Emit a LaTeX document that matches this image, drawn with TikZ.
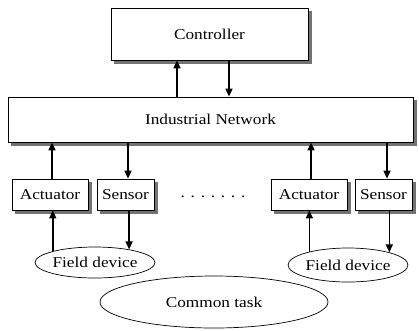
\documentclass[tikz,border=0pt]{standalone}
\usepackage{fontspec}
\setmainfont{Liberation Serif}[FakeStretch=1.15]
\usetikzlibrary{arrows.meta,shapes.geometric,backgrounds}

\tikzset{
  box/.style={draw, line width=0.7pt, fill=white, inner sep=0pt},
  shade box/.style={fill=black!55},
  fieldev/.style={draw, ellipse, line width=0.7pt, inner sep=0pt},
  arr/.style={line width=1.5pt, -{Triangle[length=8pt,width=7pt]}}
}

\begin{document}
\begin{tikzpicture}[x=1pt,y=-1pt,font=\fontsize{15}{18}\selectfont]
  \useasboundingbox (0,0) rectangle (419,330);
  % boxes
  \node[box, minimum width=197pt, minimum height=52pt] (ctl) at (209.5,34) {Controller};
  \node[box, minimum width=405pt, minimum height=45pt] (net) at (210.5,119.5) {Industrial Network};
  \node[box, minimum width=76pt, minimum height=31pt] (actL) at (50,194.5) {Actuator};
  \node[box, minimum width=57pt, minimum height=31pt] (senL) at (125.5,194.5) {Sensor};
  \node[box, minimum width=76pt, minimum height=31pt] (actR) at (309,194.5) {Actuator};
  \node[box, minimum width=57pt, minimum height=31pt] (senR) at (383.5,194.5) {Sensor};
  \node (dots) at (213,197) {. . . . . . .};
  % shadows
  \begin{scope}[on background layer]
    \foreach \b in {ctl,net,actL,senL,actR,senR}
      \fill[shade box] ([shift={(3.5,3.5)}]\b.north west) rectangle ([shift={(3.5,3.5)}]\b.south east);
  \end{scope}
  % ellipses
  \node[fieldev, minimum width=120pt, minimum height=31pt] (fieldL) at (95,262.5) {Field device};
  \node[fieldev, minimum width=110pt, minimum height=34pt] (fieldR) at (348,265) {Field device};
  \node[fieldev, minimum width=228pt, minimum height=52pt] (task) at (214,302) {Common task};
  % controller <-> network
  \draw[arr] ([xshift=-32.5pt]ctl.south |- net.north) -- ([xshift=-32.5pt]ctl.south);
  \draw[arr] ([xshift=19.5pt]ctl.south) -- ([xshift=19.5pt]ctl.south |- net.north);
  % network <-> actuators, sensors
  \draw[arr] ([xshift=2pt]actL.north) -- ([xshift=2pt]actL.north |- net.south);
  \draw[arr] ([xshift=2.5pt]senL.north |- net.south) -- ([xshift=2.5pt]senL.north);
  \draw[arr] ([xshift=2pt]actR.north) -- ([xshift=2pt]actR.north |- net.south);
  \draw[arr] ([xshift=3.5pt]senR.north |- net.south) -- ([xshift=3.5pt]senR.north);
  % field devices
  \draw[arr] (fieldL.165.9) -- (fieldL.165.9 |- actL.south);
  \draw[arr] (fieldL.21.4 |- senL.south) -- (fieldL.21.4);
  \draw[arr] (fieldR.161.2) -- (fieldR.161.2 |- actR.south);
  \draw[arr] (fieldR.17.1 |- senR.south) -- (fieldR.17.1);
\end{tikzpicture}
\end{document}
